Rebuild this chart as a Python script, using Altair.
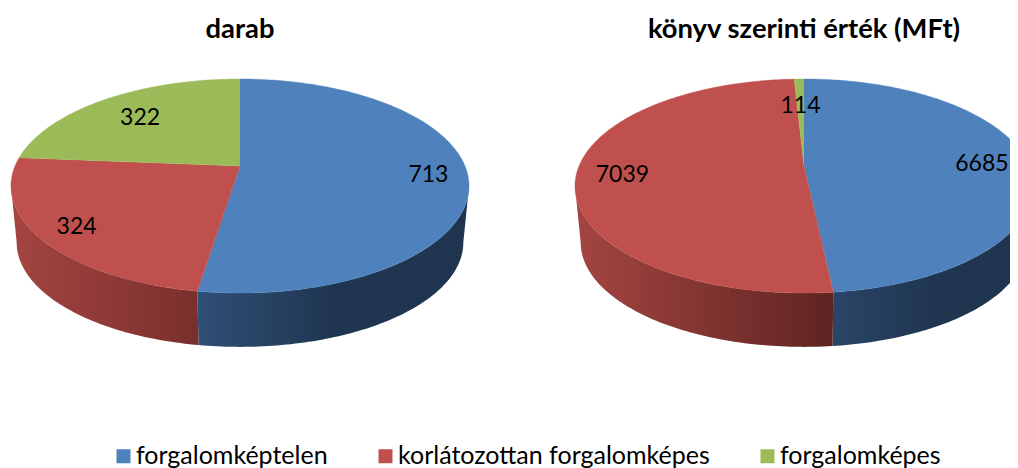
import math
import altair as alt
import pandas as pd

categories = ["forgalomképtelen", "korlátozottan forgalomképes", "forgalomképes"]
colors = ["#4f81bd", "#c0504d", "#9bbb59"]
titles = ["darab", "könyv szerinti érték (MFt)"]
darab = [713, 324, 322]
ertek = [6685, 7039, 114]
label_radius = [[0.83, 0.835, 0.72], [0.798, 0.80, 0.68]]

pie_cx = [240, 804]
APEX_Y, DEPTH_APEX_Y = 166, 223
K, A, C, BOTTOM = 225, 103.3, 0.187, 0.975
FONT = "Lato"
SIDE_FROM, SIDE_TO = 100.8, 259.2

side_fill = {
    (0, 0): [("#2f4f76", 0), ("#203650", 0.5), ("#1f344f", 1)],
    (0, 1): [("#a44541", 0), ("#7a2f2d", 1)],
    (1, 0): [("#2a4568", 0), ("#203650", 0.5), ("#1f344f", 1)],
    (1, 1): [("#a44541", 0), ("#5f2422", 1)],
}


def project(cx, deg, r=1.0, scale=1.0, apex=APEX_Y):
    t = math.radians(deg)
    w = 1 + C * r * math.cos(t)
    return (cx + scale * K * r * math.sin(t) / w,
            apex - scale * A * r * math.cos(t) / w)


def steps(a, b):
    n = max(2, int(abs(b - a)) + 1)
    return [a + (b - a) * i / n for i in range(n + 1)]


X = alt.X("x:Q", scale=alt.Scale(domain=[8, 1010], range=[0, 1002]), axis=None)
Y = alt.Y("y:Q", scale=alt.Scale(domain=[8, 468], range=[0, 460]), axis=None)

sides, tops, texts = [], [], []
for p, values in enumerate([darab, ertek]):
    cx = pie_cx[p]
    total = sum(values)
    start = 0.0
    for s, v in enumerate(values):
        end = start + 360 * v / total
        pts = [(cx, APEX_Y)] + [project(cx, d) for d in steps(start, end)]
        df = pd.DataFrame(pts, columns=["x", "y"]).assign(i=range(len(pts)))
        tops.append(alt.Chart(df).mark_line(fill=colors[s], stroke=colors[s], strokeWidth=0.4, clip=True)
                    .encode(X, Y, order="i:Q"))
        a, b = max(start, SIDE_FROM), min(end, SIDE_TO)
        if a < b:
            upper = [project(cx, d) for d in steps(a, b)]
            lower = [project(cx, d, scale=BOTTOM, apex=DEPTH_APEX_Y) for d in steps(b, a)]
            pts = upper + lower
            df = pd.DataFrame(pts, columns=["x", "y"]).assign(i=range(len(pts)))
            grad = alt.LinearGradient(
                gradient="linear", x1=0, x2=1, y1=0, y2=0,
                stops=[alt.GradientStop(color=c, offset=o) for c, o in side_fill[(p, s)]])
            sides.append(alt.Chart(df).mark_line(fill=grad, strokeWidth=0, clip=True)
                         .encode(X, Y, order="i:Q"))
        lx, ly = project(cx, (start + end) / 2, r=label_radius[p][s])
        texts.append({"x": lx, "y": ly, "t": str(v)})
        start = end

legend_df = pd.DataFrame({"cat": categories, "x": [pie_cx[0]] * 3, "y": [180] * 3})
legend_layer = alt.Chart(legend_df).mark_square(size=1, opacity=1).encode(
    X, Y,
    color=alt.Color("cat:N", sort=None,
                    scale=alt.Scale(domain=categories, range=colors),
                    legend=alt.Legend(orient="none", legendX=103, legendY=435.5, direction="horizontal",
                                      columns=3, title=None, symbolType="square", symbolSize=196,
                                      symbolStrokeWidth=0, labelFont=FONT, labelFontSize=25,
                                      labelColor="#000000", labelOffset=0, columnPadding=45,
                                      labelLimit=400)))

label_layer = alt.Chart(pd.DataFrame(texts)).mark_text(font=FONT, fontSize=23, color="#000000", dy=2).encode(
    X, Y, text="t:N")
title_df = pd.DataFrame({"x": [240, 804], "y": [30, 30], "t": titles})
title_layer = alt.Chart(title_df).mark_text(font=FONT, fontSize=27.4, fontWeight="bold", color="#000000").encode(
    X, Y, text="t:N")

chart = alt.layer(legend_layer, *sides, *tops, label_layer, title_layer).properties(
    width=1002, height=460, padding=0, autosize=alt.AutoSizeParams(type="none"),
).configure_view(stroke=None)

chart.save("out.html", embed_options={"renderer": "svg", "actions": False})
